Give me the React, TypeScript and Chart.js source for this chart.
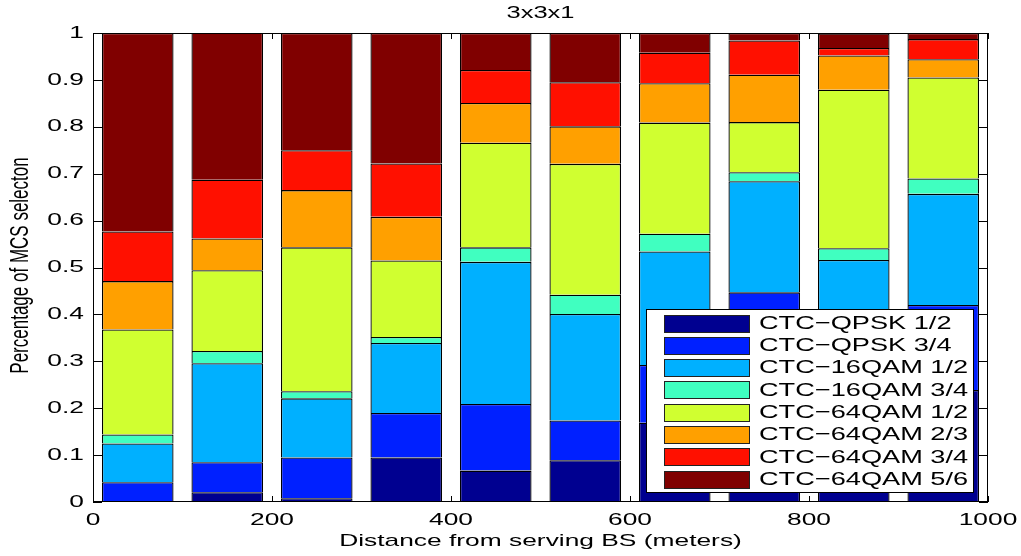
import React, { useEffect, useRef } from 'react';
import { Chart, registerables } from 'chart.js';

Chart.register(...registerables);

// ---- data ----
const distances = [50, 150, 250, 350, 450, 550, 650, 750, 850, 950];
const seriesLabels = [
  'CTC\u2212QPSK 1/2',
  'CTC\u2212QPSK 3/4',
  'CTC\u221216QAM 1/2',
  'CTC\u221216QAM 3/4',
  'CTC\u221264QAM 1/2',
  'CTC\u221264QAM 2/3',
  'CTC\u221264QAM 3/4',
  'CTC\u221264QAM 5/6',
];
const qpsk12 = [0.0, 0.021, 0.008, 0.095, 0.067, 0.089, 0.169, 0.25, 0.24, 0.239];
const qpsk34 = [0.042, 0.064, 0.087, 0.095, 0.142, 0.085, 0.123, 0.197, 0.17, 0.181];
const qam16_12 = [0.083, 0.211, 0.126, 0.149, 0.303, 0.227, 0.242, 0.237, 0.106, 0.237];
const qam16_34 = [0.019, 0.026, 0.015, 0.013, 0.031, 0.041, 0.038, 0.019, 0.025, 0.033];
const qam64_12 = [0.224, 0.172, 0.307, 0.163, 0.223, 0.279, 0.237, 0.107, 0.338, 0.215];
const qam64_23 = [0.103, 0.068, 0.122, 0.093, 0.085, 0.08, 0.084, 0.101, 0.073, 0.039];
const qam64_34 = [0.106, 0.125, 0.085, 0.114, 0.07, 0.094, 0.065, 0.073, 0.016, 0.043];
const qam64_56 = [0.423, 0.314, 0.25, 0.278, 0.079, 0.105, 0.042, 0.016, 0.031, 0.013];
const seriesValues = [qpsk12, qpsk34, qam16_12, qam16_34, qam64_12, qam64_23, qam64_34, qam64_56];
const seriesColors = ['#000090', '#0020FF', '#00B0FF', '#40FFC0', '#D0FF30', '#FFA000', '#FF1000', '#800000'];
const xTickValues = [0, 200, 400, 600, 800, 1000];
const yTickValues = [0, 0.1, 0.2, 0.3, 0.4, 0.5, 0.6, 0.7, 0.8, 0.9, 1];
const chartTitle = '3x3x1';
const xTitle = 'Distance from serving BS (meters)';
const yTitle = 'Percentage of MCS selecton';

const FONT = '"Liberation Sans", Arial, Helvetica, sans-serif';
const SX = 1.55; // horizontal text stretch

function drawText(
  ctx: CanvasRenderingContext2D,
  text: string,
  x: number,
  y: number,
  size: number,
  sx: number,
  align: CanvasTextAlign,
  rotate = false
) {
  ctx.save();
  ctx.translate(x, y);
  ctx.scale(sx, 1);
  if (rotate) ctx.rotate(-Math.PI / 2);
  ctx.font = `${size}px ${FONT}`;
  ctx.textAlign = align;
  ctx.textBaseline = 'middle';
  ctx.fillStyle = '#000';
  ctx.fillText(text, 0, 0);
  ctx.restore();
}

const matlabPlugin = {
  id: 'matlabAxes',
  beforeDatasetsDraw(chart: any) {
    const { ctx, chartArea: a, scales } = chart;
    ctx.save();
    ctx.strokeStyle = '#000';
    ctx.lineWidth = 1;
    ctx.beginPath();
    yTickValues.forEach((v) => {
      const py = Math.round(scales.y.getPixelForValue(v)) + 0.5;
      ctx.moveTo(a.left, py);
      ctx.lineTo(a.left + 9, py);
      ctx.moveTo(a.right, py);
      ctx.lineTo(a.right - 9, py);
    });
    xTickValues.forEach((v) => {
      const px = Math.round(scales.x.getPixelForValue(v)) + 0.5;
      ctx.moveTo(px, a.bottom);
      ctx.lineTo(px, a.bottom - 6);
      ctx.moveTo(px, a.top);
      ctx.lineTo(px, a.top + 6);
    });
    ctx.stroke();
    ctx.restore();
  },
  afterDatasetsDraw(chart: any) {
    const { ctx, chartArea: a, scales } = chart;
    ctx.save();
    // frame
    ctx.strokeStyle = '#000';
    ctx.lineWidth = 1;
    ctx.strokeRect(a.left + 0.5, a.top + 0.5, a.right - a.left - 1, a.bottom - a.top - 1);

    // tick labels
    yTickValues.forEach((v) => {
      const py = scales.y.getPixelForValue(v);
      drawText(ctx, String(Number(v.toFixed(1))), a.left - 9, py, 17, SX, 'right');
    });
    xTickValues.forEach((v) => {
      const px = scales.x.getPixelForValue(v);
      drawText(ctx, String(v), px, a.bottom + 18, 17, SX, 'center');
    });

    // titles
    const cx = (a.left + a.right) / 2;
    drawText(ctx, chartTitle, cx, 13, 17, 1.5, 'center');
    drawText(ctx, xTitle, cx, a.bottom + 39, 17, SX, 'center');
    drawText(ctx, yTitle, 21, (a.top + a.bottom) / 2 - 2, 17, SX, 'center', true);

    // legend
    const lx = 646.5, ly = 309.5, lw = 327, lh = 183;
    ctx.fillStyle = '#fff';
    ctx.fillRect(lx, ly, lw, lh);
    ctx.strokeStyle = '#000';
    ctx.strokeRect(lx, ly, lw, lh);
    seriesLabels.forEach((label, i) => {
      const sy = 314.5 + i * 22.3;
      ctx.fillStyle = seriesColors[i];
      ctx.fillRect(664.5, Math.round(sy) + 0.5, 85, 17);
      ctx.strokeStyle = '#222';
      ctx.strokeRect(664.5, Math.round(sy) + 0.5, 85, 17);
      drawText(ctx, label, 759, sy + 9, 19, 1.43, 'left');
    });
    ctx.restore();
  },
};

export default function App() {
  const canvasRef = useRef<HTMLCanvasElement | null>(null);

  useEffect(() => {
    const canvas = canvasRef.current;
    if (!canvas) return;
    const chart = new Chart(canvas, {
      type: 'bar',
      data: {
        datasets: seriesValues.map((vals, i) => ({
          label: seriesLabels[i],
          data: distances.map((d, j) => ({ x: d, y: vals[j] })),
          backgroundColor: seriesColors[i],
          borderColor: '#000',
          borderWidth: 1.3,
          barPercentage: 0.8,
          categoryPercentage: 1,
        })),
      },
      options: {
        animation: false,
        responsive: false,
        events: [],
        layout: { padding: { top: 33, right: 33, left: 0, bottom: 0 } },
        plugins: {
          legend: { display: false },
          title: { display: false },
          tooltip: { enabled: false },
        },
        scales: {
          x: {
            type: 'linear',
            min: 0,
            max: 1000,
            offset: false,
            stacked: true,
            grid: { display: false, offset: false },
            border: { display: false },
            ticks: { display: false, stepSize: 200 },
            afterBuildTicks: (s: any) => {
              s.ticks = xTickValues.map((v) => ({ value: v }));
            },
            afterFit: (s: any) => {
              s.height = 54;
            },
          },
          y: {
            type: 'linear',
            min: 0,
            max: 1,
            stacked: true,
            grid: { display: false },
            border: { display: false },
            ticks: { display: false, stepSize: 0.1 },
            afterBuildTicks: (s: any) => {
              s.ticks = yTickValues.map((v) => ({ value: v }));
            },
            afterFit: (s: any) => {
              s.width = 93;
            },
          },
        },
      } as any,
      plugins: [matlabPlugin as any],
    });
    return () => chart.destroy();
  }, []);

  return (
    <div style={{ position: 'fixed', left: 0, top: 0, width: 1021, height: 556, background: '#fff' }}>
      <canvas ref={canvasRef} width={1021} height={556} />
    </div>
  );
}
